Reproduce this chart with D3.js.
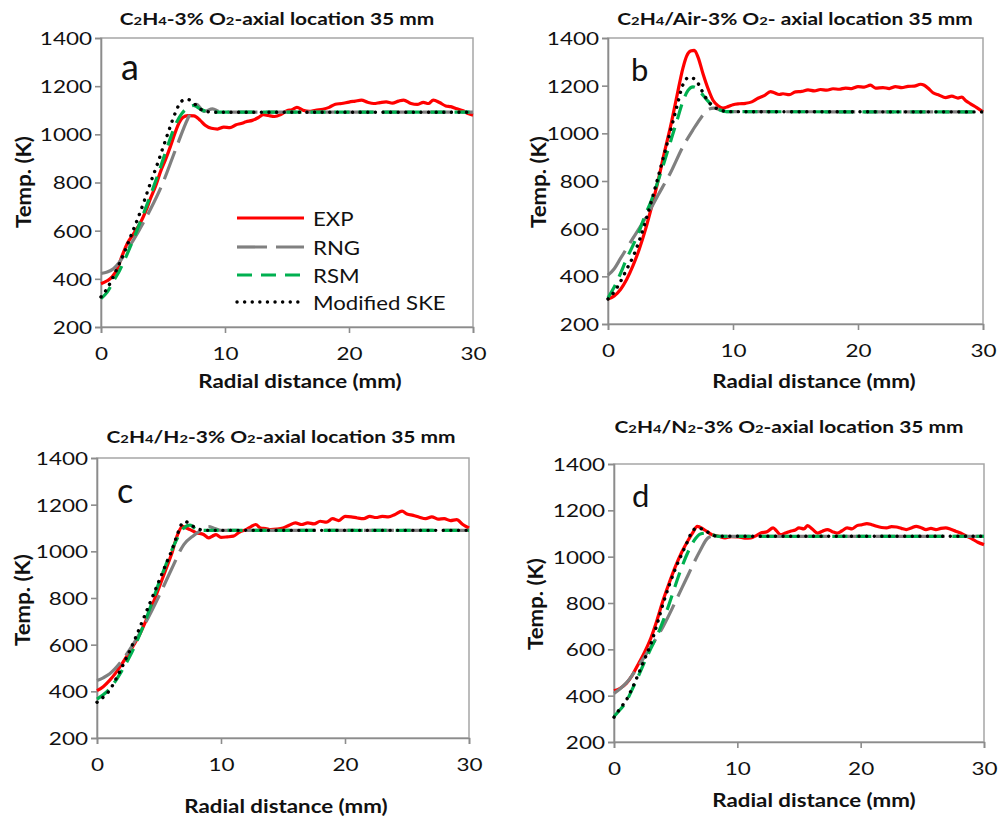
<!DOCTYPE html>
<html>
<head>
<meta charset="utf-8">
<script src="https://cdn.jsdelivr.net/npm/d3@7"></script>
<style>
  body { margin: 0; background: #fff; }
  svg { display: block; }
  text { font-family: Lato, "Open Sans", sans-serif; fill: #111; }
</style>
</head>
<body>
<div id="chart"></div>
<script>
// ---- data ----
const xTicks = [0, 10, 20, 30];
const yTicks = [200, 400, 600, 800, 1000, 1200, 1400];
const panelLetters = ["a", "b", "c", "d"];
// "_" marks a subscript digit
const panelTitles = [
  "C_2H_4-3% O_2-axial location 35 mm",
  "C_2H_4/Air-3% O_2- axial location 35 mm",
  "C_2H_4/H_2-3% O_2-axial location 35 mm",
  "C_2H_4/N_2-3% O_2-axial location 35 mm"
];
const seriesNames = ["EXP", "RNG", "RSM", "Modified SKE"];
const xLabel = "Radial distance (mm)";
const yLabel = "Temp. (K)";

// panel a : C2H4
const expA = [[0,380],[0.5,392],[0.9,408],[1.3,440],[1.7,495],[2.1,545],[2.6,585],[3.2,635],[3.6,680],[4,735],[4.4,785],[4.8,845],[5.2,895],[5.6,950],[6,1010],[6.3,1048],[6.6,1070],[7,1078],[7.5,1077],[8,1058],[8.4,1038],[8.9,1025],[9.4,1022],[9.9,1030],[10.4,1028],[10.9,1040],[11.3,1045],[11.7,1052],[12.2,1058],[12.7,1070],[13.1,1082],[13.5,1078],[14,1074],[14.5,1082],[15,1098],[15.4,1102],[15.8,1112],[16.3,1100],[16.8,1095],[17.3,1100],[17.9,1104],[18.4,1112],[18.9,1125],[19.4,1128],[20,1134],[20.5,1138],[21,1142],[21.5,1133],[22,1128],[22.5,1132],[23,1135],[23.5,1130],[24,1138],[24.4,1142],[25,1128],[25.5,1124],[26,1133],[26.4,1128],[26.8,1142],[27.3,1132],[27.8,1118],[28.2,1115],[28.7,1106],[29.2,1098],[29.6,1086],[30,1080]];
const rngA = [[0,422],[0.5,428],[1,442],[1.5,470],[2,510],[3,595],[4,690],[5,800],[6,935],[7,1065],[7.7,1125],[8.3,1095],[9,1106],[9.5,1095],[10,1092],[30,1092]];
const rsmA = [[0,318],[0.5,345],[1,390],[1.5,435],[2,490],[2.5,550],[3,615],[3.5,680],[4,748],[4.5,820],[5,895],[5.5,970],[6,1040],[6.5,1085],[7,1110],[7.5,1120],[8,1105],[8.5,1095],[9,1092],[30,1092]];
const skeA = [[0,325],[0.5,360],[1,410],[1.5,465],[2,525],[2.5,590],[3,655],[3.5,725],[4,800],[4.5,870],[5,945],[5.5,1020],[6,1090],[6.5,1138],[7,1145],[7.5,1128],[8,1105],[8.5,1095],[9,1092],[30,1092]];

// panel b : C2H4/Air
const expB = [[0,305],[0.5,318],[1,345],[1.5,388],[2,445],[2.5,514],[3,597],[3.5,694],[4,799],[4.5,917],[5,1028],[5.5,1153],[6,1275],[6.3,1325],[6.6,1345],[6.9,1348],[7.2,1320],[7.6,1250],[8,1188],[8.4,1139],[8.8,1116],[9.2,1106],[9.6,1112],[10,1120],[10.5,1124],[11,1126],[11.5,1132],[12,1147],[12.5,1158],[13,1175],[13.3,1170],[13.7,1163],[14,1166],[14.5,1162],[15,1174],[15.5,1176],[16,1182],[16.5,1178],[17,1184],[17.5,1181],[18,1187],[18.5,1185],[19,1190],[19.5,1188],[20,1196],[20.5,1194],[21,1202],[21.4,1190],[22,1192],[22.5,1188],[23,1196],[23.5,1192],[24,1197],[24.5,1198],[25,1206],[25.3,1202],[25.7,1185],[26,1170],[26.5,1160],[27,1150],[27.5,1156],[28,1148],[28.3,1152],[28.6,1138],[29,1124],[29.5,1108],[30,1090]];
const rngB = [[0,405],[0.5,432],[1,475],[2,560],[3,645],[4,740],[5,835],[6,945],[6.8,1015],[7.5,1070],[8,1100],[8.5,1106],[9,1098],[9.5,1091],[30,1090]];
const rsmB = [[0,310],[0.5,355],[1,412],[1.5,475],[2,530],[2.5,590],[3,660],[3.5,722],[4,800],[4.5,880],[5,965],[5.5,1050],[6,1135],[6.4,1180],[6.8,1195],[7.2,1185],[7.6,1160],[8,1135],[8.5,1110],[9,1097],[9.5,1091],[30,1090]];
const skeB = [[0,305],[0.5,335],[1,378],[1.5,430],[2,482],[2.5,550],[3,630],[3.5,720],[4,815],[4.5,912],[5,1010],[5.5,1110],[6,1205],[6.5,1235],[7,1225],[7.5,1180],[8,1135],[8.5,1110],[9,1098],[9.6,1091],[30,1090]];

// panel c : C2H4/H2
const expC = [[0,403],[0.5,420],[1,446],[1.5,478],[2,517],[2.5,558],[3,602],[3.5,650],[4,709],[4.5,775],[5,844],[5.5,915],[6,986],[6.5,1072],[6.9,1107],[7.2,1100],[7.5,1093],[8,1080],[8.6,1072],[9,1058],[9.3,1065],[9.6,1072],[10,1060],[10.5,1062],[11,1065],[11.5,1083],[12,1093],[12.4,1105],[12.8,1115],[13.2,1100],[13.6,1098],[14,1093],[14.5,1095],[15,1100],[15.5,1112],[16,1122],[16.5,1115],[17,1122],[17.5,1118],[18,1129],[18.5,1125],[19,1140],[19.5,1132],[20,1150],[20.5,1148],[21,1143],[21.5,1140],[22,1150],[22.5,1145],[23,1150],[23.5,1148],[24,1157],[24.6,1172],[25,1160],[25.5,1154],[26,1146],[26.5,1140],[27,1148],[27.5,1138],[28,1140],[28.5,1132],[29,1136],[29.5,1115],[30,1100]];
const rngC = [[0,446],[0.5,458],[1,474],[2,531],[3,609],[4,702],[5,808],[6,922],[7,1029],[7.8,1068],[8.4,1090],[9,1106],[9.5,1098],[10,1090],[30,1090]];
const rsmC = [[0,367],[0.5,385],[1,410],[1.5,445],[2,488],[2.5,535],[3,588],[3.5,650],[4,716],[4.5,790],[5,866],[5.5,935],[6,1001],[6.5,1058],[7,1100],[7.5,1112],[8,1095],[8.5,1090],[30,1090]];
const skeC = [[0,353],[0.5,375],[1,403],[1.5,450],[2,502],[2.5,558],[3,616],[3.5,680],[4,744],[4.5,808],[5,873],[5.5,937],[6,1000],[6.5,1075],[6.8,1115],[7.1,1128],[7.6,1112],[8.2,1095],[8.8,1090],[30,1090]];

// panel d : C2H4/N2
const expD = [[0,421],[0.5,432],[1,453],[1.5,490],[2,539],[2.5,590],[3,650],[3.5,728],[4,815],[4.5,890],[5,960],[5.5,1020],[6,1070],[6.4,1105],[6.75,1131],[7.3,1117],[7.95,1095],[8.5,1088],[9,1081],[9.5,1086],[10.1,1085],[10.6,1080],[11.1,1081],[11.5,1090],[11.9,1102],[12.4,1108],[12.9,1124],[13.2,1110],[13.5,1095],[13.9,1102],[14.3,1110],[14.7,1115],[15,1124],[15.4,1120],[15.7,1134],[16.1,1118],[16.5,1102],[16.9,1110],[17.3,1117],[17.7,1108],[18.1,1102],[18.5,1112],[18.9,1124],[19.3,1120],[19.7,1134],[20.1,1138],[20.5,1143],[20.9,1138],[21.3,1131],[21.7,1126],[22.1,1124],[22.5,1130],[22.9,1128],[23.3,1122],[23.7,1117],[24.1,1124],[24.5,1131],[24.9,1125],[25.3,1117],[25.7,1122],[26.1,1117],[26.5,1122],[26.9,1124],[27.3,1118],[27.7,1110],[28.1,1102],[28.5,1091],[29,1078],[29.5,1062],[30,1052]];
const rngD = [[0,410],[0.5,430],[1,455],[2,530],[3,612],[4,700],[5,808],[6,920],[7,1028],[7.6,1080],[8,1088],[30,1088]];
const rsmD = [[0,310],[0.5,340],[1,375],[1.5,430],[2,487],[2.5,548],[3,605],[3.5,660],[4,725],[4.5,800],[5,880],[5.5,955],[6,1020],[6.5,1070],[7,1098],[7.5,1102],[8,1094],[8.5,1088],[30,1088]];
const skeD = [[0,307],[0.5,345],[1,381],[1.5,435],[2,496],[2.5,560],[3,625],[3.5,710],[4,800],[4.5,880],[5,951],[5.5,1012],[6,1070],[6.2,1095],[6.75,1124],[7.35,1114],[8,1093],[8.5,1088],[30,1088]];

const panelSeries = [
  [expA, rngA, rsmA, skeA],
  [expB, rngB, rsmB, skeB],
  [expC, rngC, rsmC, skeC],
  [expD, rngD, rsmD, skeD]
];

// ---- layout / style ----
const W = 1002, H = 825;
const boxes = [
  { l: 101, r: 473, t: 38,  b: 327, title: [277, 25],  letter: [121, 80, 36], xl: [300, 388], yl: [25, 182] },
  { l: 608, r: 983, t: 38,  b: 324, title: [795, 25],  letter: [631, 81, 31], xl: [814, 388], yl: [540, 182] },
  { l: 97,  r: 469, t: 458, b: 738, title: [281, 443], letter: [117, 503, 34], xl: [286, 813], yl: [24, 600] },
  { l: 614, r: 984, t: 464, b: 742, title: [789, 433], letter: [632, 507, 31], xl: [814, 807], yl: [537, 604] }
];
const styles = [
  { stroke: "#ff0000", width: 3.2, dash: null, cap: "butt" },
  { stroke: "#808080", width: 3.2, dash: "30,9", cap: "butt" },
  { stroke: "#00b050", width: 3.2, dash: "15,9", cap: "butt" },
  { stroke: "#000000", width: 3.4, dash: "0.1,7.5", cap: "round" }
];
const SX = 1.25; // text in the figure is stretched horizontally

const svg = d3.select("#chart").append("svg")
  .attr("width", W).attr("height", H);

function addText(g, x, y, str, size, weight, anchor, sx) {
  return g.append("text")
    .attr("transform", `translate(${x},${y}) scale(${sx},1)`)
    .attr("text-anchor", anchor)
    .style("font-size", size + "px")
    .style("font-weight", weight)
    .text(str);
}

panelSeries.forEach((series, i) => {
  const bx = boxes[i];
  const g = svg.append("g");

  const x = d3.scaleLinear().domain([0, 30]).range([bx.l, bx.r]);
  const y = d3.scaleLinear().domain([200, 1400]).range([bx.b, bx.t]);

  // plot frame
  g.append("rect")
    .attr("x", bx.l).attr("y", bx.t)
    .attr("width", bx.r - bx.l).attr("height", bx.b - bx.t)
    .attr("fill", "none").attr("stroke", "#a6a6a6").attr("stroke-width", 1.5);

  // axes
  const ax = g.append("g").attr("transform", `translate(0,${bx.b})`)
    .call(d3.axisBottom(x).tickValues(xTicks).tickSize(6).tickFormat(d3.format("d")));
  const ay = g.append("g").attr("transform", `translate(${bx.l},0)`)
    .call(d3.axisLeft(y).tickValues(yTicks).tickSize(6).tickFormat(d3.format("d")));
  [ax, ay].forEach(a => {
    a.select(".domain").attr("stroke", "#8c8c8c").attr("stroke-width", 1.6);
    a.selectAll(".tick line").attr("stroke", "#8c8c8c").attr("stroke-width", 1.6);
  });
  ax.selectAll(".tick text")
    .attr("y", null).attr("dy", null)
    .attr("transform", `translate(0,33) scale(${SX},1)`)
    .style("font-size", "18px").style("font-family", "Lato").attr("fill", "#111");
  ay.selectAll(".tick text")
    .attr("x", null).attr("dy", "0.36em")
    .attr("transform", `translate(-9,0) scale(${SX},1)`)
    .style("font-size", "18px").style("font-family", "Lato").attr("fill", "#111");

  // title with subscripts
  const t = g.append("text")
    .attr("transform", `translate(${bx.title[0]},${bx.title[1]}) scale(1.23,1)`)
    .attr("text-anchor", "middle")
    .style("font-size", "17px").style("font-weight", "bold");
  panelTitles[i].split(/(_\d)/).filter(s => s.length).forEach(s => {
    if (s[0] === "_") t.append("tspan").style("font-size", "12px").text(s.slice(1));
    else t.append("tspan").text(s);
  });

  // panel letter
  addText(g, bx.letter[0], bx.letter[1], panelLetters[i], bx.letter[2], "normal", "start", 1.0);

  // axis labels
  addText(g, bx.xl[0], bx.xl[1], xLabel, 18, "bold", "middle", 1.24);
  g.append("text")
    .attr("transform", `translate(${bx.yl[0] + 6},${bx.yl[1]}) rotate(-90) scale(1.17,1.12)`)
    .attr("text-anchor", "middle")
    .style("font-size", "19px").style("font-weight", "bold")
    .text(yLabel);

  // curves
  const line = d3.line().x(d => x(d[0])).y(d => y(d[1])).curve(d3.curveMonotoneX);
  series.forEach((pts, k) => {
    const st = styles[k];
    g.append("path")
      .attr("d", line(pts))
      .attr("fill", "none")
      .attr("stroke", st.stroke)
      .attr("stroke-width", st.width)
      .attr("stroke-dasharray", st.dash)
      .attr("stroke-linecap", st.cap)
      .attr("stroke-linejoin", "round");
  });

  // legend only in panel a
  if (i === 0) {
    const rows = [218, 247, 275, 302];
    seriesNames.forEach((name, k) => {
      const st = styles[k];
      g.append("line")
        .attr("x1", 237).attr("x2", 304).attr("y1", rows[k]).attr("y2", rows[k])
        .attr("stroke", st.stroke).attr("stroke-width", st.width)
        .attr("stroke-dasharray", st.dash).attr("stroke-linecap", st.cap);
      addText(g, 313, rows[k] + 8, name, 18.5, "normal", "start", 1.2);
    });
  }
});
</script>
</body>
</html>
